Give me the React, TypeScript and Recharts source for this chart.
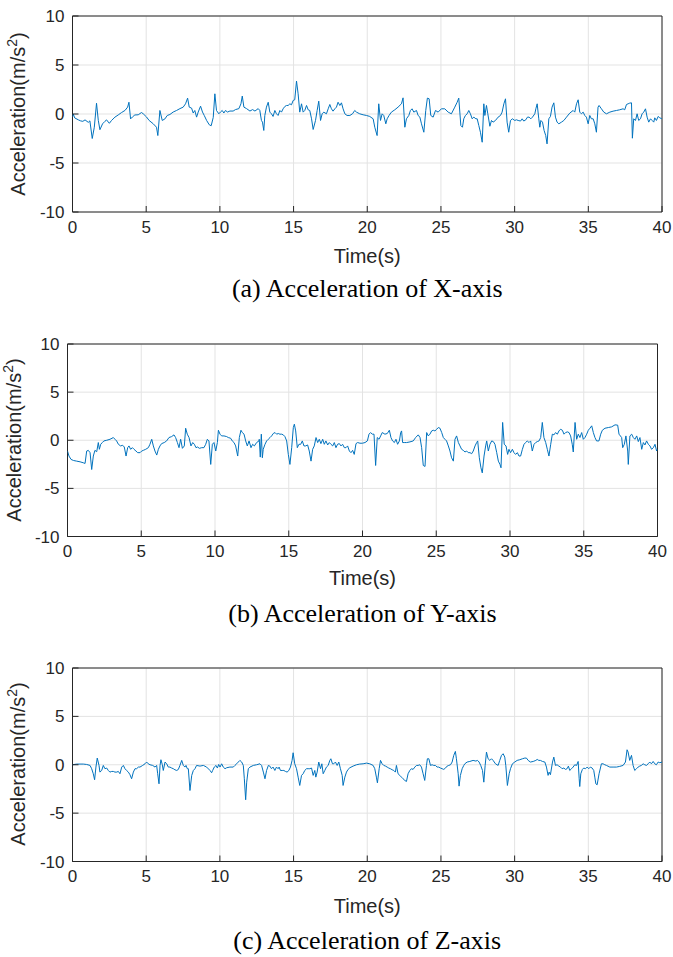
import { LineChart, Line, XAxis, YAxis, CartesianGrid, ReferenceArea } from "recharts";

// tick values
const TIME_TICKS = [0, 5, 10, 15, 20, 25, 30, 35, 40];
const ACC_TICKS = [-10, -5, 0, 5, 10];

// (a) X-axis
const X_TIME = [
  0, 0.05, 0.15, 0.4, 0.55, 0.7, 0.85, 1.07, 1.18, 1.34, 1.48, 1.63, 1.75, 1.86, 2.04, 2.2, 2.31, 2.5, 2.65, 2.88,
  3.1, 3.33, 3.56, 3.74, 3.83, 3.94, 4.07, 4.23, 4.46, 4.68, 4.8, 5.02, 5.2, 5.48, 5.7, 5.79, 5.93, 6.09, 6.27, 6.43,
  6.61, 6.83, 7.06, 7.29, 7.51, 7.67, 7.81, 7.92, 8.08, 8.19, 8.3, 8.42, 8.53, 8.69, 8.82, 8.94, 9.1, 9.28, 9.41, 9.55,
  9.66, 9.77, 9.93, 10.04, 10.16, 10.27, 10.38, 10.52, 10.68, 10.9, 11.06, 11.29, 11.43, 11.52, 11.63, 11.81, 12.04, 12.22, 12.38, 12.6,
  12.71, 12.82, 12.89, 12.98, 13.05, 13.16, 13.28, 13.39, 13.5, 13.61, 13.73, 13.84, 13.95, 14.07, 14.18, 14.29, 14.41, 14.52, 14.63, 14.75,
  14.86, 14.97, 15.08, 15.2, 15.31, 15.42, 15.54, 15.65, 15.76, 15.88, 15.99, 16.1, 16.22, 16.33, 16.49, 16.6, 16.71, 16.83, 16.94, 17.05,
  17.23, 17.35, 17.46, 17.57, 17.68, 17.8, 17.91, 18.02, 18.14, 18.25, 18.36, 18.48, 18.63, 18.82, 19.0, 19.15, 19.27, 19.49, 19.72, 19.95,
  20.17, 20.4, 20.51, 20.67, 20.78, 20.9, 21.01, 21.12, 21.26, 21.35, 21.48, 21.64, 21.87, 22.09, 22.32, 22.43, 22.55, 22.66, 22.82, 22.93,
  23.04, 23.16, 23.34, 23.45, 23.57, 23.68, 23.84, 23.97, 24.08, 24.2, 24.31, 24.47, 24.63, 24.81, 25.03, 25.26, 25.49, 25.71, 25.94, 26.1,
  26.21,
  26.35, 26.46, 26.55, 26.66, 26.78, 26.89, 27.0, 27.12, 27.23, 27.37, 27.46, 27.57, 27.68, 27.8, 27.91, 27.98, 28.09, 28.18, 28.32, 28.43,
  28.54, 28.7, 28.88, 29.04, 29.15, 29.27, 29.38, 29.49, 29.6, 29.72, 29.85, 30.01, 30.12, 30.24, 30.4, 30.51, 30.62, 30.76, 30.87, 30.98,
  31.1, 31.21, 31.37, 31.44, 31.53, 31.64, 31.71, 31.78, 31.89, 32.0, 32.11, 32.2, 32.32, 32.43, 32.54, 32.66, 32.77, 32.88, 33.0, 33.18,
  33.34, 33.52, 33.74, 33.97, 34.08, 34.2, 34.31, 34.42, 34.53, 34.65, 34.76, 34.87, 34.99, 35.1, 35.21, 35.33, 35.44, 35.55, 35.66, 35.73,
  35.89, 36.05, 36.23, 36.46, 36.68, 36.91, 37.13, 37.36, 37.47, 37.59, 37.7, 37.81, 37.93, 37.99, 38.08, 38.2, 38.31, 38.42, 38.54, 38.65,
  38.76, 38.88, 38.99, 39.1, 39.22, 39.33, 39.44, 39.51, 39.62, 39.74, 39.85, 39.99,
];
const X_ACCEL = [
  -0.3, 0.0, -0.4, -0.6, -0.7, -0.75, -0.6, -0.85, -0.7, -2.5, -1.35, 1.1, -0.65, -1.6, -1.0, -0.75, -0.6, -0.95, -0.66, -0.32,
  -0.1, 0.15, 0.36, 0.7, 1.2, -0.5, -0.3, -0.1, -0.08, 0.15, 0.02, -0.3, -0.66, -1.0, -1.35, -2.2, 0.36, -0.66, -0.5, -0.15,
  -0.05, 0.2, 0.36, 0.55, 0.7, 1.04, 1.62, 0.7, 0.6, 0.1, 0.36, -0.32, 0.2, 0.8, 0.2, -0.15, -0.66, -1.1, -1.2, -0.35,
  2.06, 0.36, 0.02, 0.2, 0.36, 0.1, 0.36, 0.2, 0.3, 0.3, 0.45, 0.55, 1.04, 1.83, 0.7, 0.55, 0.3, 0.45, 0.3, 0.55,
  0.36, -0.66, -0.83, -1.68, -0.15, 0.7, 1.2, 0.19, 0.02, -0.25, 0.36, 0.02, -0.15, 0.36, 0.19, 0.53, 0.77, 0.87, 0.87, 1.04,
  0.94, 1.38, 1.45, 3.36, 2.06, 0.19, 1.04, 0.19, 0.36, 0.87, 0.43, 0.36, -0.49, -1.58, -0.66, 0.36, 1.31, -0.66, 0.02, 0.19,
  0.02, 0.53, 0.97, 0.53, 0.29, 0.53, 0.7, 1.2, 0.87, 1.14, 0.53, 0.02, -0.15, -0.15, 0.02, 0.36, 0.19, 0.02, -0.08, -0.15,
  -0.25, -0.49, -1.35, -2.2, 1.04, -0.66, 0.02, -0.15, -1.0, -0.49, -0.15, 0.19, 0.43, 0.7, 1.04, 1.65, -1.35, -0.49, -0.15, 0.36,
  0.53, 0.19, 0.36, -0.15, -0.32, -1.0, -1.86, 0.36, 1.62, 1.55, -0.15, -0.32, 0.36, 0.19, 0.53, 0.53, 0.19, 0.02, 0.7, 1.2,
  1.62,
  -1.18, -1.35, -0.49, -0.15, 0.02, 0.36, 0.02, -0.49, -0.32, -0.49, -0.49, -1.18, -1.86, -2.88, 1.04, -0.15, 0.87, 0.02, -1.25, -0.66,
  -0.83, -0.66, -0.32, -0.15, 0.19, 1.04, 1.55, -0.83, -1.86, -0.66, -0.49, -0.66, -0.59, -0.66, -0.72, -0.49, -0.72, -0.59, -0.32, -0.32,
  -0.49, -0.32, 0.02, 0.53, 1.04, -0.49, -1.35, -0.66, -0.83, -1.68, -2.2, -3.05, -0.49, -0.25, 0.7, 1.14, -0.32, -0.83, -1.0, -0.83,
  -0.66, -0.32, 0.09, 0.36, 0.19, 1.04, 1.45, 0.19, 0.02, 0.19, -0.15, -0.32, -1.0, -0.15, -0.49, -0.49, -1.0, -1.86, 0.7, 0.87,
  0.53, 0.19, 0.02, 0.19, 0.29, 0.36, 0.43, 0.53, 0.43, 0.97, 1.04, 1.11, 1.14, -2.47, -0.49, -0.66, 0.02, -0.66, -0.49, 0.02,
  0.19, 0.53, -0.32, -0.83, -0.49, -0.66, -0.83, -0.39, -0.66, -0.25, -0.39, -0.49,
];

// (b) Y-axis
const Y_TIME = [
  0, 0.1, 0.24, 0.4, 0.62, 0.85, 1.07, 1.19, 1.3, 1.41, 1.53, 1.64, 1.75, 1.86, 1.98, 2.09, 2.16, 2.25, 2.36, 2.47,
  2.66, 2.88, 3.11, 3.22, 3.33, 3.45, 3.6, 3.74, 3.85, 3.97, 4.08, 4.17, 4.28, 4.4, 4.51, 4.64, 4.76, 4.92, 5.03, 5.14,
  5.3, 5.48, 5.59, 5.71, 5.82, 5.93, 6.05, 6.16, 6.27, 6.38, 6.56, 6.72, 6.88, 7.06, 7.22, 7.33, 7.45, 7.56, 7.67, 7.79,
  7.92, 8.01, 8.12, 8.24, 8.37, 8.49, 8.6, 8.71, 8.82, 8.94, 9.1, 9.25, 9.37, 9.48, 9.59, 9.71, 9.82, 9.93, 10.05, 10.16,
  10.23, 10.34, 10.45, 10.61, 10.79, 10.9, 11.06, 11.17, 11.29, 11.4, 11.54, 11.65, 11.76, 11.85, 11.97, 12.08, 12.19, 12.31, 12.44, 12.55,
  12.67, 12.82, 12.98,
  13.0, 13.07, 13.14, 13.21, 13.27, 13.39, 13.5, 13.61, 13.73, 13.84, 13.95, 14.07, 14.18, 14.29, 14.4, 14.52, 14.63, 14.74, 14.86, 14.97,
  15.08, 15.2, 15.31, 15.38, 15.47, 15.58, 15.69, 15.81, 15.92, 16.03, 16.14, 16.28, 16.39, 16.51, 16.62, 16.73, 16.85, 16.96, 17.07, 17.18,
  17.3, 17.41, 17.52, 17.64, 17.75, 17.86, 17.98, 18.09, 18.2, 18.31, 18.43, 18.54, 18.65, 18.77, 18.88, 18.99, 19.11, 19.22, 19.33, 19.44,
  19.56, 19.67, 19.83, 19.99, 20.17, 20.33, 20.44, 20.55, 20.66, 20.78, 20.89, 21.0, 21.12, 21.23, 21.34, 21.52, 21.68, 21.82, 21.93, 22.04,
  22.16, 22.27, 22.38, 22.5, 22.59, 22.65, 22.72, 22.83, 22.99, 23.22, 23.44, 23.6, 23.78, 23.9, 24.01, 24.12, 24.24, 24.35, 24.46, 24.57,
  24.69, 24.8, 24.91, 25.03, 25.14, 25.25, 25.37, 25.48, 25.59, 25.7, 25.82, 25.93, 26.04, 26.16, 26.27,
  26.38, 26.5, 26.61, 26.72, 26.83, 26.95, 27.06, 27.17, 27.29, 27.4, 27.51, 27.63, 27.74, 27.81, 27.92, 28.03, 28.12, 28.24, 28.35, 28.42,
  28.53, 28.64, 28.76, 28.87, 28.98, 29.1, 29.21, 29.32, 29.39, 29.5, 29.61, 29.73, 29.84, 29.93, 30.04, 30.16, 30.27, 30.38, 30.5, 30.61,
  30.72, 30.84, 30.95, 31.06, 31.17, 31.29, 31.4, 31.51, 31.63, 31.74, 31.85, 31.97, 32.08, 32.19, 32.3, 32.42, 32.53, 32.64, 32.76, 32.87,
  32.98, 33.09, 33.21, 33.32, 33.43, 33.55, 33.66, 33.77, 33.89, 34.0, 34.11, 34.22, 34.29, 34.41, 34.52, 34.63, 34.74, 34.86, 34.97, 35.08,
  35.2, 35.31, 35.42, 35.54, 35.65, 35.76, 35.87, 36.03, 36.15, 36.26, 36.44, 36.67, 36.89, 37.12, 37.3, 37.39, 37.57, 37.64, 37.75, 37.86,
  37.98, 38.02, 38.13, 38.25, 38.36, 38.47, 38.59, 38.7, 38.81, 38.93, 39.04, 39.15, 39.26, 39.38, 39.49, 39.6, 39.72, 39.83, 39.94, 40.0,
];
const Y_ACCEL = [
  -1.12, -1.64, -1.99, -2.1, -2.17, -2.24, -2.34, -2.41, -1.12, -1.05, -1.29, -3.04, -1.64, -1.05, -1.19, -0.24, -0.94, -0.42, -0.24, -0.07,
  0, 0.1, 0.28, 0.1, -0.07, -0.42, -0.59, -0.52, -0.7, -1.64, -0.77, -0.59, -0.94, -0.77, -0.94, -1.12, -1.29, -1.29, -1.12, -1.05,
  -0.94, -0.77, -0.42, 0.1, -0.59, -1.12, -1.54, -0.94, -0.59, -0.35, -0.24, -0.07, 0.28, 0.38, 0.56, 0.28, -0.24, -0.77, 0.1, -0.84,
  -0.59, 1.25, 0.63, 0.28, -0.59, -0.24, -0.42, -0.77, -0.7, -0.84, -0.77, -0.77, -0.42, 0.1, -0.07, -2.51, -0.42, -0.24, -1.12, -0.24,
  1.04, 0.63, 0.45, 0.45, 0.38, 0.28, 0.21, -0.07, -0.24, -0.59, -1.64, 0.28, 1.04, 0.8, 0.63, -0.07, -0.59, -0.07, -0.77, -0.42,
  -0.59, -0.24, -0.07,
  0.1, -1.75, 0.63, -1.82, -0.94, -0.42, -0.07, 0.1, 0.28, 0.45, 0.7, 0.8, 0.63, 0.7, 0.63, 0.63, 0.56, 0.38, -0.07, -1.47,
  -2.51, -0.77, 1.32, 1.67, 0.97, -0.77, -0.42, -0.42, -0.07, -0.59, -0.59, -0.49, -1.12, -2.17, -0.94, -0.59, 0.28, -0.24, 0.1, -0.35,
  0.1, -0.42, -0.07, -0.49, -0.24, -0.42, -0.59, -0.24, -0.77, -0.42, -0.35, -0.59, -0.42, -0.77, -0.77, -0.59, -1.12, -1.29, -1.05, -1.47,
  -0.35, -0.24, -0.31, -0.31, -0.24, -0.07, 0.63, 0.8, 0.63, 0.63, -2.62, 0.28, 0.1, 0.45, 0.8, 0.63, 0.7, 1.04, 0.28, -0.07,
  -0.24, 0.1, -0.42, -0.07, 0.8, 0.97, -0.24, -0.24, -0.24, -0.17, -0.07, 0.28, 0.56, 0.28, -0.77, -2.62, -2.72, 0.8, 0.45, 0.63,
  0.97, 1.04, 0.97, 1.14, 1.32, 1.25, 0.8, 0.28, 0.1, -0.07, -0.59, -1.12, -1.82, -2.17, 0.1,
  0.45, -0.24, -0.59, -0.94, -1.05, -1.22, -1.12, -1.29, -1.29, -1.4, -1.12, -0.59, -0.24, -0.07, -1.82, -2.86, -3.39, -1.64, -0.59, -0.07,
  -1.12, -0.42, -0.07, -0.14, -0.42, -1.29, -2.17, -2.51, -2.86, 1.85, -0.42, -0.59, -1.47, -0.94, -1.29, -0.94, -1.29, -1.47, -1.29, -1.64,
  -1.64, -0.94, -0.42, -0.24, -0.07, -0.24, -0.07, -1.12, -0.42, -0.24, -0.14, -0.07, 0.28, 1.85, 0.28, -0.24, -0.94, -1.64, -0.42, 0.63,
  0.56, 0.8, 0.63, 0.97, 1.14, 1.04, 0.63, 0.8, 0.87, 0.8, 0.45, -0.42, -1.22, 1.85, 0.1, 0.63, 0.28, 0.8, 0.1, 0.28,
  0.63, 1.04, 1.25, 1.5, 0.8, 0.28, -0.07, -0.07, 0.63, 1.04, 1.25, 1.32, 1.39, 1.6, 1.57, 0.63, 0.28, -0.77, -0.42, 0.45,
  -1.12, -2.51, 0.45, 0.63, 0.28, 0.1, 0.45, -0.14, 0.28, -0.94, -0.24, -0.49, -0.07, -0.42, -0.59, -0.94, -0.77, -0.42, -1.12, -0.94,
];

// (c) Z-axis
const Z_TIME = [
  0, 0.28, 0.51, 0.73, 0.96, 1.19, 1.3, 1.41, 1.5, 1.59, 1.68, 1.8, 1.86, 1.98, 2.09, 2.2, 2.32, 2.43, 2.54, 2.66,
  2.77, 2.88, 3.0, 3.11, 3.22, 3.34, 3.45, 3.56, 3.67, 3.79, 3.9, 4.01, 4.13, 4.24, 4.35, 4.47, 4.58, 4.76, 4.92, 5.03,
  5.14, 5.26, 5.44, 5.6, 5.71, 5.78, 5.87, 5.94, 6.0, 6.09, 6.16, 6.28, 6.39, 6.5, 6.61, 6.73, 6.84, 6.95, 7.07, 7.18,
  7.29, 7.41, 7.52, 7.63, 7.7, 7.79, 7.86, 7.97, 8.09, 8.2, 8.31, 8.42, 8.65, 8.88, 9.1, 9.33, 9.44, 9.51, 9.62, 9.74,
  9.83, 9.92, 10.01, 10.12, 10.23, 10.35, 10.46, 10.68, 10.91, 11.02, 11.14, 11.25, 11.36, 11.48, 11.59, 11.66, 11.75, 11.82, 11.93, 12.04,
  12.27, 12.49, 12.72, 12.83, 12.95, 13.06, 13.17, 13.29,
  13.39, 13.5, 13.61, 13.73, 13.84, 13.95, 14.02, 14.11, 14.23, 14.34, 14.45, 14.56, 14.68, 14.79, 14.9, 14.97, 15.08, 15.2, 15.31, 15.42,
  15.54, 15.65, 15.76, 15.88, 15.99, 16.1, 16.22, 16.33, 16.44, 16.51, 16.6, 16.71, 16.83, 16.92, 17.01, 17.12, 17.23, 17.35, 17.46, 17.53,
  17.64, 17.73, 17.84, 17.96, 18.07, 18.18, 18.3, 18.36, 18.48, 18.59, 18.7, 18.82, 19.04, 19.27, 19.49, 19.72, 19.95, 20.17, 20.4, 20.51,
  20.62, 20.69, 20.81, 20.9, 21.01, 21.12, 21.24, 21.35, 21.46, 21.57, 21.69, 21.8, 21.91, 21.98, 22.09, 22.21, 22.32, 22.43, 22.55, 22.66,
  22.77, 22.89, 23.0, 23.11, 23.23, 23.34, 23.45, 23.56, 23.68, 23.79, 23.9, 24.02, 24.08, 24.18, 24.29, 24.4, 24.51, 24.63, 24.74, 24.85,
  24.97, 25.08, 25.19, 25.31, 25.42, 25.53, 25.65, 25.76, 25.87, 25.98, 26.05, 26.17, 26.23, 26.32, 26.44, 26.55,
  26.62, 26.78, 26.96, 27.18, 27.37, 27.48, 27.59, 27.7, 27.82, 27.91, 28.0, 28.09, 28.2, 28.32, 28.43, 28.54, 28.7, 28.88, 28.99, 29.11,
  29.22, 29.33, 29.4, 29.51, 29.63, 29.72, 29.85, 30.01, 30.17, 30.35, 30.53, 30.69, 30.8, 30.92, 31.07, 31.26, 31.44, 31.53, 31.64, 31.75,
  31.89, 32.05, 32.16, 32.27, 32.34, 32.43, 32.57, 32.66, 32.77, 32.88, 33.0, 33.11, 33.22, 33.34, 33.45, 33.56, 33.65, 33.74, 33.86, 33.97,
  34.08, 34.2, 34.31, 34.38, 34.42, 34.49, 34.6, 34.69, 34.81, 34.92, 35.03, 35.14, 35.26, 35.37, 35.44, 35.51, 35.6, 35.73, 35.89, 36.0,
  36.12, 36.23, 36.46, 36.68, 36.91, 37.13, 37.36, 37.52, 37.63, 37.7, 37.81, 37.93, 38.04, 38.15, 38.27, 38.38, 38.49, 38.6, 38.72, 38.83,
  38.94, 39.06, 39.17, 39.28, 39.4, 39.51, 39.62, 39.74, 39.85, 40.0,
];
const Z_ACCEL = [
  0, 0.07, 0.07, 0.07, 0.03, -0.07, -0.41, -0.93, -1.55, -0.24, 0.69, -0.07, -0.76, -0.59, -0.07, -0.41, -0.34, -0.59, -0.76, -0.69,
  -0.69, -0.76, -0.76, -0.69, -0.93, -0.24, -0.07, -0.41, -0.59, -0.76, -1.03, -1.45, -0.76, -0.41, -0.41, -0.24, -0.24, -0.07, 0.1, 0.28,
  0.1, 0, -0.07, -0.24, -0.07, -0.93, -1.97, -0.07, 0.52, 0.03, -0.59, 0.28, 0.1, -0.24, -0.24, -0.34, -0.41, -0.52, -0.59, -0.49,
  -0.07, 0.45, -0.07, -0.24, -0.07, -0.41, -0.41, -2.66, -1.1, -0.59, -0.41, -0.07, -0.14, -0.07, -0.24, -0.59, -0.83, -0.59, -0.24, -0.07,
  -0.34, 0.03, -0.24, 0.1, -0.24, -0.41, -0.31, -0.24, -0.24, -0.07, 0.1, 0.28, 0.45, 0.28, -0.07, -1.45, -3.62, -1.8, -0.41, -0.24,
  -0.07, 0, 0.1, -0.07, -0.76, -1.45, -0.59, -0.07,
  -0.14, -0.41, -0.24, -0.59, -0.24, -0.41, -0.24, -0.59, -0.59, -0.59, -0.69, -0.76, -0.59, -0.24, 0.45, 1.24, 0.1, -0.41, -1.28, -2.14,
  -1.1, -0.93, -0.59, -0.41, -0.41, -0.41, -0.34, -1.1, -0.59, -1.28, -0.76, 0.28, -0.41, 0.1, -0.93, -0.59, -0.24, -0.07, 0.45, 0.62,
  0.1, 0.1, 0.28, -0.07, 0.28, -0.41, -1.1, -2.14, -1.28, -0.76, -0.48, -0.31, -0.14, 0, 0.07, 0.1, 0.17, 0.1, -0.07, -0.41,
  -1.28, -1.87, -0.41, 0.45, 0.1, -0.07, -0.14, -0.24, -0.34, -0.41, -0.52, -0.59, -0.76, -0.07, -0.93, -1.1, -1.28, -1.45, -1.62, -1.73,
  -0.93, -0.59, -0.41, -0.48, -0.24, -0.07, -0.07, 0, -0.24, -0.93, -1.62, -0.07, 0.62, 0.62, -0.07, 0, -0.07, -0.07, -0.24, -0.24,
  -0.34, -0.41, -0.48, -0.34, -0.14, -0.07, 0, 0.28, 0.97, 1.38, 0.62, -0.93, -2.21, -1.1, -0.41, -0.07,
  0.1, 0.28, 0.34, 0.45, 0.38, 0.45, 0.28, -0.07, -0.59, -1.8, -0.07, 1.31, 0.62, 0.45, 0.62, 0.45, 0.1, -0.07, 0.45, 0.97,
  1.14, 0.79, -0.07, -2.14, -0.93, -0.41, 0.1, 0.28, 0.45, 0.52, 0.62, 0.69, 0.69, 0.45, 0.28, 0.34, 0.45, 0.55, 0.45, 0.45,
  0.34, 0.28, -0.24, -1.1, -0.76, -1.03, 0.28, 0.79, -0.07, 0, -0.14, -0.24, -0.41, -0.34, -0.48, -0.41, -0.14, -0.59, -0.41, -0.24,
  0, -0.07, 0.34, -1.45, -2.25, -0.93, -0.48, -0.34, -0.41, -0.24, -0.41, -0.24, -0.34, -0.59, -1.28, -1.97, -2.07, -0.93, 0.1, 0.1,
  0, -0.07, -0.24, -0.24, -0.24, -0.17, -0.07, 0.28, 1.55, 1.31, 0.45, 0.97, -0.07, -0.59, -0.41, -0.24, -0.14, -0.07, 0.1, 0,
  -0.07, 0.1, 0.28, 0.1, 0.34, 0.1, 0, 0.28, 0.21, 0.28,
];

const AXIS_COLOR = "#262626";
const LINE_COLOR = "#0072BD";
const GRID_COLOR = "#e3e3e3";
const SANS = "'Liberation Sans', Arial, sans-serif";
const SERIF = "'Liberation Serif', 'Times New Roman', serif";

type PanelProps = {
  time: number[];
  accel: number[];
  plotLeft: number;
  plotRight: number;
  plotTop: number;
  plotBottom: number;
  titleY: number;
  captionY: number;
  yTitleX: number;
  caption: string;
};

function AccelPanel({ time, accel, plotLeft, plotRight, plotTop, plotBottom, titleY, captionY, yTitleX, caption }: PanelProps) {
  const data = time.map((t, i) => ({ t, v: accel[i] }));
  const pad = 10;
  const xAxisH = 30;
  const chartTop = plotTop - pad;
  const chartH = plotBottom - plotTop + pad + xAxisH;
  const centerX = (plotLeft + plotRight) / 2;
  const centerY = (plotTop + plotBottom) / 2;
  const tickStyle = { fontFamily: SANS, fontSize: 17, fill: AXIS_COLOR };

  return (
    <>
      <div style={{ position: "absolute", left: 0, top: chartTop }}>
        <LineChart
          width={673}
          height={chartH}
          data={data}
          margin={{ top: pad, right: 673 - plotRight, bottom: 0, left: plotLeft - 60 }}
        >
          <CartesianGrid stroke={GRID_COLOR} strokeWidth={1} />
          <XAxis
            dataKey="t"
            type="number"
            domain={[0, 40]}
            ticks={TIME_TICKS}
            allowDataOverflow
            height={xAxisH}
            axisLine={false}
            tickLine={{ stroke: AXIS_COLOR }}
            tickSize={-6}
            tickMargin={14.5}
            tick={tickStyle}
            interval={0}
          />
          <XAxis
            xAxisId="top"
            orientation="top"
            type="number"
            domain={[0, 40]}
            ticks={TIME_TICKS}
            allowDataOverflow
            height={0}
            axisLine={false}
            tickLine={{ stroke: AXIS_COLOR }}
            tickSize={-6}
            tick={false}
          />
          <YAxis
            type="number"
            domain={[-10, 10]}
            ticks={ACC_TICKS}
            allowDataOverflow
            width={60}
            axisLine={false}
            tickLine={{ stroke: AXIS_COLOR }}
            tickSize={-6}
            tickMargin={14}
            tick={tickStyle}
            interval={0}
          />
          <YAxis
            yAxisId="right"
            orientation="right"
            type="number"
            domain={[-10, 10]}
            ticks={ACC_TICKS}
            allowDataOverflow
            width={0}
            axisLine={false}
            tickLine={{ stroke: AXIS_COLOR }}
            tickSize={-6}
            tick={false}
          />
          <Line
            type="linear"
            dataKey="v"
            stroke={LINE_COLOR}
            strokeWidth={1}
            dot={false}
            isAnimationActive={false}
          />
          <ReferenceArea x1={0} x2={40} y1={-10} y2={10} fill="none" stroke={AXIS_COLOR} strokeWidth={1} ifOverflow="visible" />
        </LineChart>
      </div>
      <div
        style={{
          position: "absolute",
          left: yTitleX,
          top: centerY,
          transform: "translate(-50%, -50%) rotate(-90deg)",
          whiteSpace: "nowrap",
          fontFamily: SANS,
          fontSize: 20,
          color: AXIS_COLOR,
          lineHeight: 1,
        }}
      >
        Acceleration(m/s<sup style={{ fontSize: "0.7em", verticalAlign: "0.55em", lineHeight: 0 }}>2</sup>)
      </div>
      <div
        style={{
          position: "absolute",
          left: centerX,
          top: titleY,
          transform: "translate(-50%, -50%)",
          whiteSpace: "nowrap",
          fontFamily: SANS,
          fontSize: 20,
          color: AXIS_COLOR,
          lineHeight: 1,
        }}
      >
        Time(s)
      </div>
      <div
        style={{
          position: "absolute",
          left: centerX,
          top: captionY,
          transform: "translate(-50%, -50%)",
          whiteSpace: "nowrap",
          fontFamily: SERIF,
          fontSize: 26,
          color: "#000",
          lineHeight: 1,
        }}
      >
        {caption}
      </div>
    </>
  );
}

export default function App() {
  return (
    <div style={{ position: "absolute", left: 0, top: 0, width: 673, height: 957, background: "#fff" }}>
      <AccelPanel
        time={X_TIME}
        accel={X_ACCEL}
        plotLeft={72.5}
        plotRight={662}
        plotTop={16}
        plotBottom={212}
        titleY={256}
        captionY={289}
        yTitleX={18}
        caption="(a) Acceleration of X-axis"
      />
      <AccelPanel
        time={Y_TIME}
        accel={Y_ACCEL}
        plotLeft={67.5}
        plotRight={657.5}
        plotTop={343.5}
        plotBottom={536}
        titleY={578}
        captionY={614}
        yTitleX={14}
        caption="(b) Acceleration of Y-axis"
      />
      <AccelPanel
        time={Z_TIME}
        accel={Z_ACCEL}
        plotLeft={72.5}
        plotRight={662}
        plotTop={667.5}
        plotBottom={861}
        titleY={906}
        captionY={941}
        yTitleX={18}
        caption="(c) Acceleration of Z-axis"
      />
    </div>
  );
}
